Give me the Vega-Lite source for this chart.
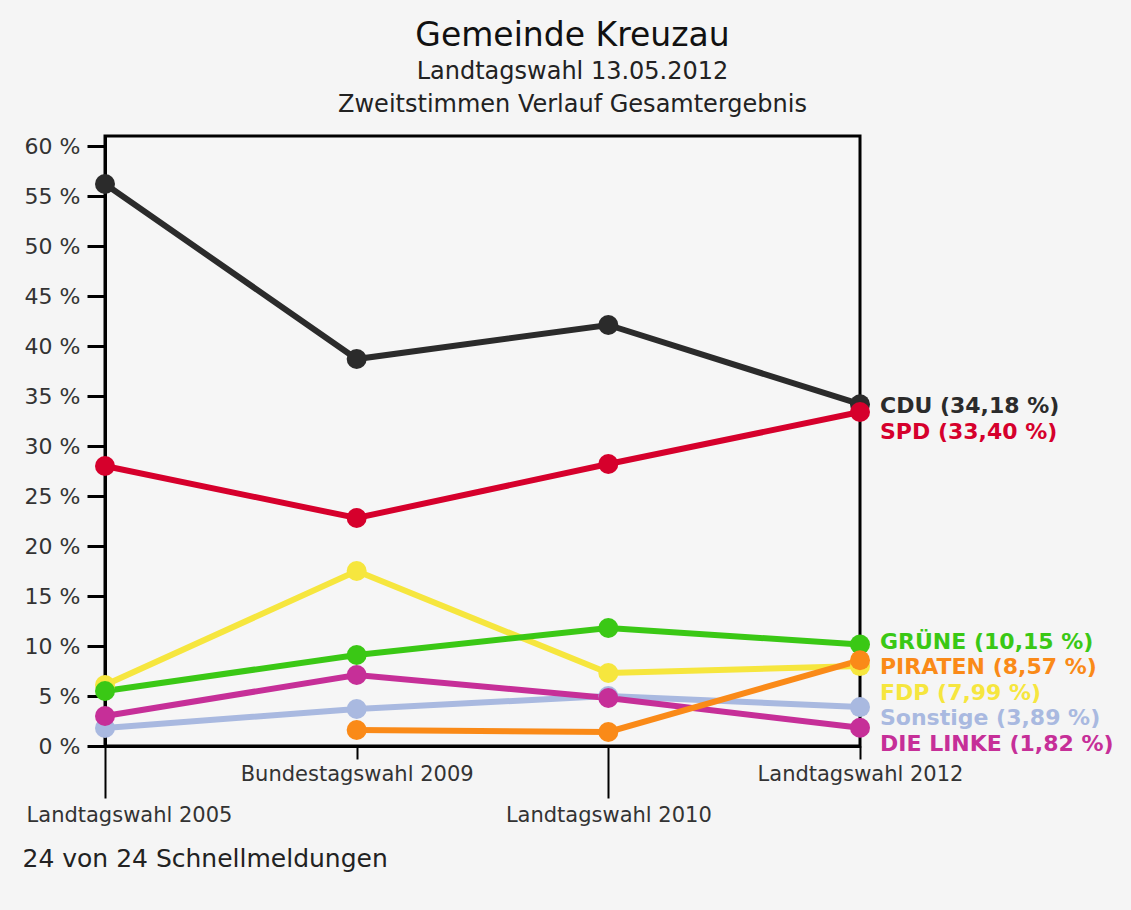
{
  "$schema": "https://vega.github.io/schema/vega-lite/v6.json",
  "autosize": {"type": "none"},
  "padding": {"left": 105, "top": 136, "right": 271, "bottom": 164},
  "width": 755,
  "height": 610,
  "background": "#f5f5f5",
  "config": {
    "font": "DejaVu Sans",
    "view": {"stroke": "black", "strokeWidth": 3, "fill": "#f6f6f6"},
    "axis": {"grid": false, "domainColor": "black", "domainWidth": 3, "tickColor": "black", "labelFont": "DejaVu Sans", "labelColor": "#333333", "labelFontSize": 21, "labelLimit": 0}
  },
  "title": {
    "text": "Gemeinde Kreuzau",
    "subtitle": ["Landtagswahl 13.05.2012", "Zweitstimmen Verlauf Gesamtergebnis"],
    "anchor": "middle",
    "dx": 90,
    "font": "DejaVu Sans",
    "fontSize": 33,
    "fontWeight": "normal",
    "color": "#111111",
    "subtitleFont": "DejaVu Sans",
    "subtitleFontSize": 24,
    "subtitleColor": "#222222",
    "subtitleLineHeight": 33,
    "subtitlePadding": 7,
    "offset": 18
  },
  "datasets": {
    "ergebnisse": [
      {"wahl": "Landtagswahl 2005", "partei": "CDU", "wert": 56.2},
      {"wahl": "Bundestagswahl 2009", "partei": "CDU", "wert": 38.7},
      {"wahl": "Landtagswahl 2010", "partei": "CDU", "wert": 42.1},
      {"wahl": "Landtagswahl 2012", "partei": "CDU", "wert": 34.18},
      {"wahl": "Landtagswahl 2005", "partei": "SPD", "wert": 28.0},
      {"wahl": "Bundestagswahl 2009", "partei": "SPD", "wert": 22.8},
      {"wahl": "Landtagswahl 2010", "partei": "SPD", "wert": 28.2},
      {"wahl": "Landtagswahl 2012", "partei": "SPD", "wert": 33.40},
      {"wahl": "Landtagswahl 2005", "partei": "FDP", "wert": 6.1},
      {"wahl": "Bundestagswahl 2009", "partei": "FDP", "wert": 17.5},
      {"wahl": "Landtagswahl 2010", "partei": "FDP", "wert": 7.3},
      {"wahl": "Landtagswahl 2012", "partei": "FDP", "wert": 7.99},
      {"wahl": "Landtagswahl 2005", "partei": "GRÜNE", "wert": 5.5},
      {"wahl": "Bundestagswahl 2009", "partei": "GRÜNE", "wert": 9.1},
      {"wahl": "Landtagswahl 2010", "partei": "GRÜNE", "wert": 11.8},
      {"wahl": "Landtagswahl 2012", "partei": "GRÜNE", "wert": 10.15},
      {"wahl": "Landtagswahl 2005", "partei": "Sonstige", "wert": 1.8},
      {"wahl": "Bundestagswahl 2009", "partei": "Sonstige", "wert": 3.7},
      {"wahl": "Landtagswahl 2010", "partei": "Sonstige", "wert": 5.0},
      {"wahl": "Landtagswahl 2012", "partei": "Sonstige", "wert": 3.89},
      {"wahl": "Landtagswahl 2005", "partei": "DIE LINKE", "wert": 3.0},
      {"wahl": "Bundestagswahl 2009", "partei": "DIE LINKE", "wert": 7.1},
      {"wahl": "Landtagswahl 2010", "partei": "DIE LINKE", "wert": 4.8},
      {"wahl": "Landtagswahl 2012", "partei": "DIE LINKE", "wert": 1.82},
      {"wahl": "Bundestagswahl 2009", "partei": "PIRATEN", "wert": 1.6},
      {"wahl": "Landtagswahl 2010", "partei": "PIRATEN", "wert": 1.4},
      {"wahl": "Landtagswahl 2012", "partei": "PIRATEN", "wert": 8.57}
    ],
    "beschriftung": [
      {"partei": "CDU", "label": "CDU (34,18 %)", "pos": 34.0},
      {"partei": "SPD", "label": "SPD (33,40 %)", "pos": 31.4},
      {"partei": "GRÜNE", "label": "GRÜNE (10,15 %)", "pos": 10.4},
      {"partei": "PIRATEN", "label": "PIRATEN (8,57 %)", "pos": 7.9},
      {"partei": "FDP", "label": "FDP (7,99 %)", "pos": 5.3},
      {"partei": "Sonstige", "label": "Sonstige (3,89 %)", "pos": 2.8},
      {"partei": "DIE LINKE", "label": "DIE LINKE (1,82 %)", "pos": 0.2}
    ]
  },
  "layer": [
    {
      "data": {"name": "ergebnisse"},
      "mark": {"type": "line", "strokeWidth": 6},
      "encoding": {
        "x": {
          "field": "wahl", "type": "ordinal",
          "scale": {"type": "point", "padding": 0, "domain": ["Landtagswahl 2005", "Bundestagswahl 2009", "Landtagswahl 2010", "Landtagswahl 2012"]},
          "axis": {
            "title": "24 von 24 Schnellmeldungen",
            "titleX": -83, "titleY": 112, "titleAlign": "left", "titleBaseline": "middle",
            "titleFont": "DejaVu Sans", "titleFontSize": 25, "titleFontWeight": "normal", "titleColor": "#222222",
            "labelAngle": 0, "labelOverlap": false, "labelBound": false,
            "tickWidth": 2,
            "tickSize": {"condition": {"test": "datum.value === 'Landtagswahl 2005' || datum.value === 'Landtagswahl 2010'", "value": 52}, "value": 13},
            "labelPadding": {"condition": {"test": "datum.value === 'Landtagswahl 2005' || datum.value === 'Landtagswahl 2010'", "value": 6}, "value": 4},
            "labelOffset": {"condition": {"test": "datum.value === 'Landtagswahl 2005'", "value": 24}, "value": 0}
          }
        },
        "y": {
          "field": "wert", "type": "quantitative",
          "scale": {"domain": [0, 61], "nice": false},
          "axis": {"title": null, "values": [0, 5, 10, 15, 20, 25, 30, 35, 40, 45, 50, 55, 60], "labelExpr": "datum.value + ' %'", "tickSize": 18, "tickWidth": 3, "labelPadding": 7, "labelFontSize": 22}
        },
        "color": {
          "field": "partei", "type": "nominal", "legend": null,
          "scale": {
            "domain": ["CDU", "SPD", "GRÜNE", "FDP", "Sonstige", "DIE LINKE", "PIRATEN"],
            "range": ["#2b2b2b", "#d6002c", "#3ac815", "#f6e63e", "#a9b9e0", "#c62f98", "#fa8a18"]
          }
        }
      }
    },
    {
      "data": {"name": "ergebnisse"},
      "mark": {"type": "point", "filled": true, "size": 400, "opacity": 1},
      "encoding": {
        "x": {"field": "wahl", "type": "ordinal"},
        "y": {"field": "wert", "type": "quantitative"},
        "color": {"field": "partei", "type": "nominal", "legend": null}
      }
    },
    {
      "data": {"name": "beschriftung"},
      "mark": {"type": "text", "align": "left", "baseline": "middle", "dx": 20, "font": "DejaVu Sans", "fontWeight": "bold", "fontSize": 22},
      "encoding": {
        "x": {"datum": "Landtagswahl 2012", "type": "ordinal"},
        "y": {"field": "pos", "type": "quantitative"},
        "text": {"field": "label"},
        "color": {"field": "partei", "type": "nominal", "legend": null}
      }
    }
  ]
}
